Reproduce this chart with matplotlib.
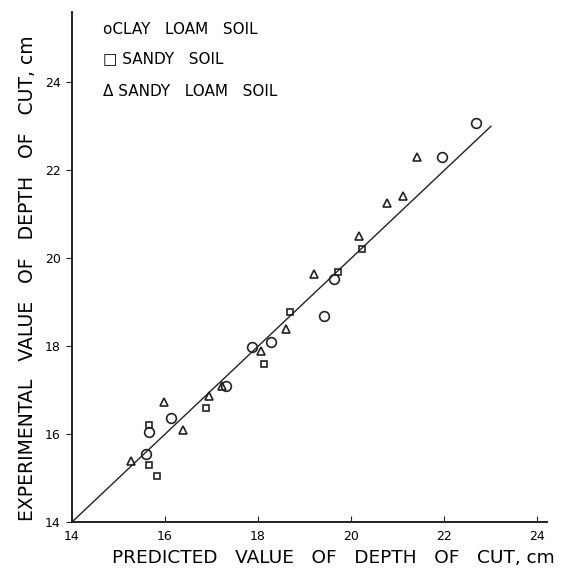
import matplotlib.pyplot as plt

# predicted vs experimental depth of cut (cm) for three soil types
clay_pred = [15.59, 15.65, 16.12, 17.30, 17.86, 18.27, 19.41, 19.62, 21.94, 22.69]
clay_exp = [15.55, 16.05, 16.36, 17.10, 17.98, 18.10, 18.68, 19.52, 22.30, 23.07]

sandy_pred = [15.65, 15.82, 15.65, 16.88, 18.12, 18.68, 19.71, 20.24]
sandy_exp = [15.30, 15.05, 16.20, 16.60, 17.60, 18.77, 19.68, 20.20]

loam_pred = [15.27, 15.97, 16.38, 16.94, 17.22, 18.07, 18.60, 19.19, 20.16, 20.76, 21.12, 21.42]
loam_exp = [15.40, 16.73, 16.09, 16.86, 17.10, 17.90, 18.40, 19.65, 20.50, 21.25, 21.42, 22.30]

ticks = [14, 16, 18, 20, 22, 24]
line_ends = [14, 23.0]

fig = plt.figure(figsize=(5.66, 5.70), dpi=100)
ax = fig.add_axes([0.127, 0.084, 0.839, 0.895])

ax.plot(line_ends, line_ends, color='#222222', lw=1.0)

mk = dict(linestyle='none', markerfacecolor='none', markeredgecolor='#222222', markeredgewidth=1.2)
ax.plot(clay_pred, clay_exp, marker='o', markersize=7, **mk)
ax.plot(sandy_pred, sandy_exp, marker='s', markersize=5, **mk)
ax.plot(loam_pred, loam_exp, marker='^', markersize=5.5, **mk)

ax.set_xlim(14, 24.2)
ax.set_ylim(14, 25.6)
ax.set_xticks(ticks)
ax.set_yticks(ticks)
ax.tick_params(axis='x', direction='in', length=4, labelsize=9, pad=6, color='#222222')
ax.tick_params(axis='y', direction='out', length=4, labelsize=9, pad=4, color='#222222')

for side in ['top', 'right']:
    ax.spines[side].set_visible(False)
for side in ['left', 'bottom']:
    ax.spines[side].set_linewidth(1.4)
    ax.spines[side].set_color('#222222')

ax.set_xlabel('PREDICTED   VALUE   OF   DEPTH   OF   CUT, cm', fontsize=13.3, labelpad=4, x=0.55)
ax.set_ylabel('EXPERIMENTAL   VALUE   OF   DEPTH   OF   CUT, cm', fontsize=13.5, labelpad=6, y=0.478)

# hand-lettered key in the upper left corner
ax.text(0.065, 0.965, 'oCLAY   LOAM   SOIL', transform=ax.transAxes, fontsize=11, va='center')
ax.text(0.065, 0.908, '\u25a1 SANDY   SOIL', transform=ax.transAxes, fontsize=11, va='center')
ax.text(0.065, 0.845, '\u0394 SANDY   LOAM   SOIL', transform=ax.transAxes, fontsize=11, va='center')

fig.savefig('out.png', dpi=100)
